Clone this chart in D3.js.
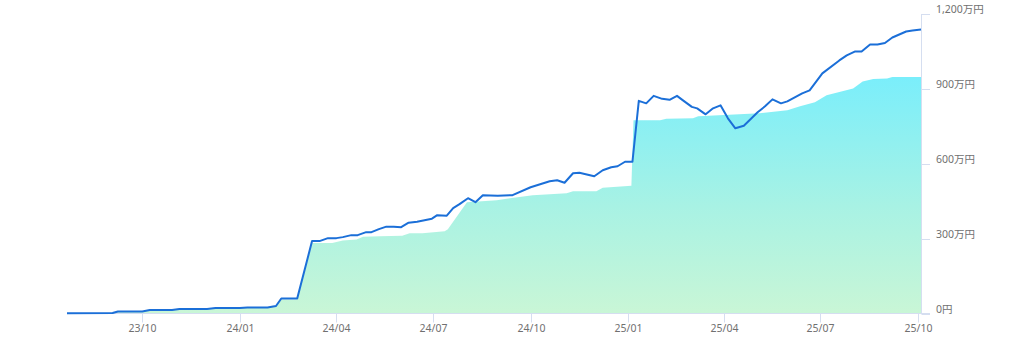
<!DOCTYPE html>
<meta charset="utf-8">
<style>
body { margin: 0; background: #fff; }
svg { display: block; font-family: "Noto Sans", "Noto Sans CJK JP", sans-serif; }
.axis-line { stroke: #d5def0; stroke-width: 1; fill: none; }
.tick-label { fill: #707070; font-size: 10.5px; }
.valuation { fill: none; stroke: #1b6fd8; stroke-width: 2; stroke-linejoin: round; }
</style>
<svg width="1024" height="339"></svg>
<script src="https://d3js.org/d3.v7.min.js"></script>
<script>

// 評価額
var lineDates = [
  "2023-07-22","2023-09-03","2023-09-08","2023-10-01","2023-10-08","2023-10-29","2023-11-05","2023-12-01",
  "2023-12-09","2024-01-01","2024-01-08","2024-01-27","2024-02-04","2024-02-09","2024-02-24","2024-03-09",
  "2024-03-16","2024-03-24","2024-04-01","2024-04-07","2024-04-15","2024-04-21","2024-04-29","2024-05-04",
  "2024-05-11","2024-05-18","2024-05-25","2024-06-01","2024-06-08","2024-06-16","2024-06-23","2024-06-30",
  "2024-07-05","2024-07-14","2024-07-20","2024-07-26","2024-08-03","2024-08-10","2024-08-17","2024-08-31",
  "2024-09-14","2024-10-01","2024-10-19","2024-10-26","2024-11-02","2024-11-10","2024-11-16","2024-11-30",
  "2024-12-08","2024-12-16","2024-12-22","2024-12-29","2025-01-05","2025-01-11","2025-01-18","2025-01-25",
  "2025-02-02","2025-02-09","2025-02-16","2025-02-21","2025-03-02","2025-03-07","2025-03-15","2025-03-22",
  "2025-03-29","2025-04-05","2025-04-12","2025-04-20","2025-05-03","2025-05-10","2025-05-17","2025-05-25",
  "2025-05-31","2025-06-14","2025-06-21","2025-07-03","2025-07-19","2025-07-26","2025-08-03","2025-08-09",
  "2025-08-17","2025-08-24","2025-08-31","2025-09-07","2025-09-20","2025-09-26","2025-10-04"
];
var lineValues = [
  1, 2, 8, 8, 14, 14, 18, 18,
  22, 22, 24, 24, 30, 60, 60, 290,
  290, 302, 302, 306, 314, 314, 326, 326,
  338, 348, 348, 346, 364, 368, 374, 380,
  394, 392, 422, 438, 462, 446, 474, 472,
  474, 506, 530, 534, 524, 562, 564, 550,
  574, 586, 590, 608, 608, 852, 842, 872,
  860, 856, 872, 856, 828, 822, 798, 822,
  834, 782, 742, 752, 806, 830, 858, 842,
  850, 882, 894, 962, 1014, 1034, 1050, 1050,
  1078, 1078, 1084, 1106, 1130, 1134, 1138
];

// 投資額
var areaDates = [
  "2023-07-22","2023-09-03","2023-09-08","2023-10-08","2023-11-05","2023-12-09","2024-01-08","2024-02-04",
  "2024-02-09","2024-02-24","2024-03-09","2024-03-28","2024-04-07","2024-04-20","2024-04-26","2024-05-12",
  "2024-06-02","2024-06-09","2024-06-21","2024-07-12","2024-07-15","2024-07-29","2024-08-02","2024-08-30",
  "2024-10-03","2024-11-04","2024-11-10","2024-12-02","2024-12-08","2025-01-04","2025-01-06","2025-01-31",
  "2025-02-06","2025-03-03","2025-03-08","2025-05-05","2025-05-31","2025-06-12","2025-06-26","2025-07-07",
  "2025-08-01","2025-08-10","2025-08-20","2025-09-02","2025-09-07","2025-10-04"
];
var areaValues = [
  0, 0, 6, 12, 16, 20, 22, 28,
  56, 56, 282, 282, 292, 296, 308, 310,
  312, 322, 322, 330, 338, 422, 446, 454,
  474, 482, 490, 490, 504, 512, 774, 774,
  780, 782, 790, 802, 814, 830, 846, 874,
  902, 930, 940, 942, 948, 948
];

var yTicks = [0, 300, 600, 900, 1200];
var yTickLabels = ["0円", "300万円", "600万円", "900万円", "1,200万円"];
var xTicks = ["2023-10-01","2024-01-01","2024-04-01","2024-07-01","2024-10-01","2025-01-01","2025-04-01","2025-07-01","2025-10-01"];

var svg = d3.select("svg");
var parse = d3.timeParse("%Y-%m-%d");

var x = d3.scaleTime()
    .domain([parse("2023-07-22"), parse("2025-10-04")])
    .range([67, 921]);

var y = d3.scaleLinear()
    .domain([0, 1200])
    .range([313.5, 14]);

var lineData = lineDates.map(function(d, i) { return {date: parse(d), value: lineValues[i]}; });
var areaData = areaDates.map(function(d, i) { return {date: parse(d), value: areaValues[i]}; });

var grad = svg.append("defs").append("linearGradient")
    .attr("id", "fill")
    .attr("gradientUnits", "userSpaceOnUse")
    .attr("x1", 0).attr("x2", 0)
    .attr("y1", y(950)).attr("y2", y(0));
grad.append("stop").attr("offset", "0%").attr("stop-color", "#7aeefb");
grad.append("stop").attr("offset", "55%").attr("stop-color", "#a8f2e4");
grad.append("stop").attr("offset", "100%").attr("stop-color", "#c9f6d6");

svg.append("path")
    .datum(areaData)
    .attr("fill", "url(#fill)")
    .attr("d", d3.area()
        .x(function(d) { return x(d.date); })
        .y0(y(0))
        .y1(function(d) { return y(d.value); }));

// x axis
svg.append("line")
    .attr("class", "axis-line")
    .attr("x1", 67).attr("x2", 930)
    .attr("y1", y(0)).attr("y2", y(0));

var xt = svg.selectAll(".xtick")
  .data(xTicks.map(parse))
  .enter().append("g")
    .attr("transform", function(d) { return "translate(" + Math.round(x(d)) + ".5,0)"; });
xt.append("line")
    .attr("class", "axis-line")
    .attr("y1", y(0)).attr("y2", y(0) + 9);
xt.append("text")
    .attr("class", "tick-label")
    .attr("y", 332)
    .attr("text-anchor", "middle")
    .text(d3.timeFormat("%y/%m"));

// y axis
svg.append("line")
    .attr("class", "axis-line")
    .attr("x1", 921.5).attr("x2", 921.5)
    .attr("y1", y(1200)).attr("y2", y(0));

var yt = svg.selectAll(".ytick")
  .data(yTicks)
  .enter().append("g")
    .attr("transform", function(d) { return "translate(0," + (Math.round(y(d)) + 0.5) + ")"; });
yt.append("line")
    .attr("class", "axis-line")
    .attr("x1", 921.5).attr("x2", 930);
yt.append("text")
    .attr("class", "tick-label")
    .attr("x", 936)
    .attr("y", -2)
    .text(function(d, i) { return yTickLabels[i]; });

svg.append("path")
    .datum(lineData)
    .attr("class", "valuation")
    .attr("d", d3.line()
        .x(function(d) { return x(d.date); })
        .y(function(d) { return y(d.value); }));

</script>
